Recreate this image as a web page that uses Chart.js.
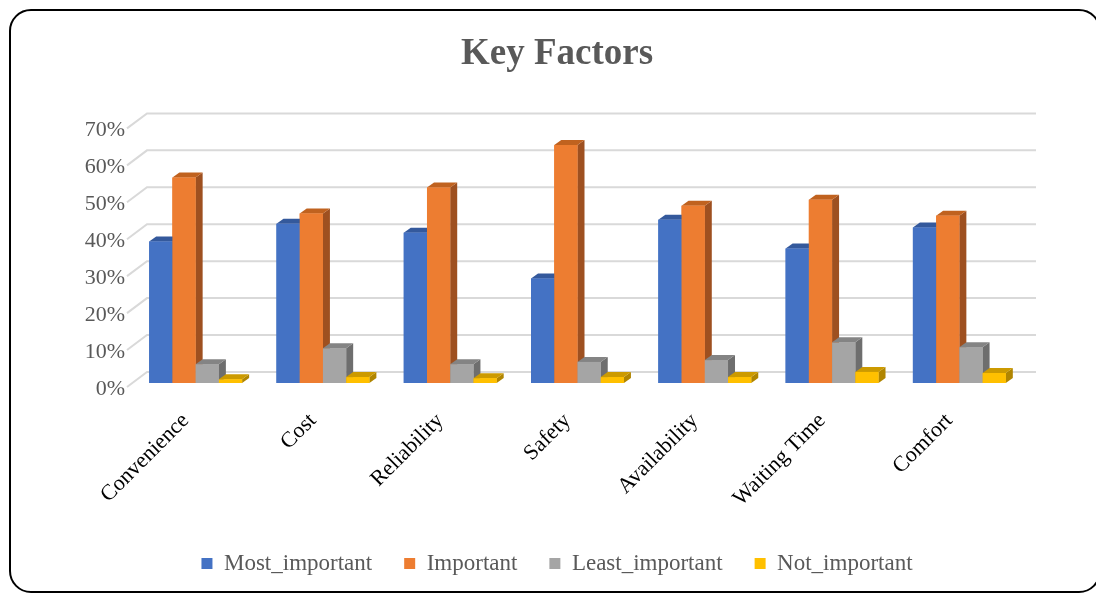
<!DOCTYPE html>
<html>
<head>
<meta charset="utf-8">
<script src="https://cdn.jsdelivr.net/npm/chart.js@4.4.1/dist/chart.umd.min.js"></script>
<style>
    html, body { margin: 0; padding: 0; background: #fff; }
    #wrap { position: relative; width: 1096px; height: 594px; overflow: hidden; background: #fff; }
    #frame {
        position: absolute; left: 9px; top: 9px; width: 1092px; height: 584px;
        border: 2.5px solid #000; border-radius: 22px; box-sizing: border-box;
    }
    #myChart { position: absolute; left: 0; top: 0; }
</style>
</head>
<body>
<div id="wrap">
    <div id="frame"></div>
    <canvas id="myChart" width="1096" height="594"></canvas>
</div>
<script>
// du lieu
var categories = ["Convenience", "Cost", "Reliability", "Safety", "Availability", "Waiting Time", "Comfort"];
var mostImportant = [38.3, 43.1, 40.7, 28.3, 44.2, 36.4, 42.1];
var important = [55.6, 45.9, 52.9, 64.4, 48.0, 49.6, 45.3];
var leastImportant = [5.1, 9.4, 5.1, 5.7, 6.2, 11.0, 9.7];
var notImportant = [1.0, 1.6, 1.3, 1.6, 1.6, 3.0, 2.7];
var yTicks = [0, 10, 20, 30, 40, 50, 60, 70];

var frontColors = ["#4472C4", "#ED7D31", "#A5A5A5", "#FFC000"];
var topColors = ["#34599c", "#c0621f", "#848484", "#cc9a00"];
var sideColors = ["#2f5190", "#9e5020", "#6e6e6e", "#b08500"];

// ve luoi 3D (tuong sau + duong cheo)
var gridPlugin = {
    id: "grid3d",
    beforeDatasetsDraw: function (chart) {
        var ctx = chart.ctx;
        var y = chart.scales.y;
        var area = chart.chartArea;
        ctx.save();
        ctx.strokeStyle = "#d9d9d9";
        ctx.lineWidth = 2;
        yTicks.forEach(function (v) {
            var py = y.getPixelForValue(v);
            ctx.beginPath();
            ctx.moveTo(area.left - 5, py + 4);
            ctx.lineTo(area.left + 15, py - 11);
            ctx.lineTo(area.right + 13, py - 11);
            ctx.stroke();
        });
        ctx.restore();
    }
};

// ve cot 3D: mat truoc, mat tren, mat ben
var barPlugin = {
    id: "bars3d",
    afterDatasetsDraw: function (chart) {
        var ctx = chart.ctx;
        var dx = 7, dy = 5;
        ctx.save();
        for (var j = 0; j < categories.length; j++) {
            for (var i = 0; i < chart.data.datasets.length; i++) {
                var bar = chart.getDatasetMeta(i).data[j];
                var l = bar.x - bar.width / 2;
                var r = bar.x + bar.width / 2;
                var t = bar.y, b = bar.base;
                // mat ben
                ctx.fillStyle = sideColors[i];
                ctx.beginPath();
                ctx.moveTo(r, t); ctx.lineTo(r + dx, t - dy);
                ctx.lineTo(r + dx, b - dy); ctx.lineTo(r, b);
                ctx.closePath(); ctx.fill();
                // mat tren
                ctx.fillStyle = topColors[i];
                ctx.beginPath();
                ctx.moveTo(l, t); ctx.lineTo(l + dx, t - dy);
                ctx.lineTo(r + dx, t - dy); ctx.lineTo(r, t);
                ctx.closePath(); ctx.fill();
                // mat truoc
                ctx.fillStyle = frontColors[i];
                ctx.fillRect(l, t, r - l, b - t);
            }
        }
        ctx.restore();
    }
};

function VeDoThi() {
    Chart.defaults.font.family = "'Liberation Serif', 'Times New Roman', serif";
    new Chart("myChart", {
        type: "bar",
        data: {
            labels: categories,
            datasets: [
                { label: "Most_important", data: mostImportant, backgroundColor: frontColors[0] },
                { label: "Important", data: important, backgroundColor: frontColors[1] },
                { label: "Least_important", data: leastImportant, backgroundColor: frontColors[2] },
                { label: "Not_important", data: notImportant, backgroundColor: frontColors[3] }
            ]
        },
        options: {
            responsive: false,
            animation: false,
            layout: { padding: { left: 18, right: 0, top: 0, bottom: 9 } },
            datasets: { bar: { categoryPercentage: 0.73, barPercentage: 1 } },
            plugins: {
                tooltip: { enabled: false },
                title: {
                    display: true,
                    text: "Key Factors",
                    color: "#595959",
                    font: { size: 37, weight: "bold" },
                    padding: { top: 32, bottom: 48 }
                },
                legend: {
                    position: "bottom",
                    labels: {
                        color: "#595959",
                        font: { size: 23 },
                        boxWidth: 11,
                        boxHeight: 11,
                        padding: 32
                    }
                }
            },
            scales: {
                x: {
                    grid: { display: false, drawTicks: false },
                    border: { display: false },
                    ticks: {
                        color: "#000",
                        font: { size: 22 },
                        minRotation: 45,
                        maxRotation: 45,
                        padding: 25,
                        labelOffset: -10
                    },
                    afterFit: function (scale) { scale.height = 137; }
                },
                y: {
                    min: 0,
                    max: 70,
                    grid: { display: false, drawTicks: false },
                    border: { display: false },
                    ticks: {
                        stepSize: 10,
                        color: "#595959",
                        font: { size: 22 },
                        padding: 7,
                        labelOffset: 6,
                        callback: function (v) { return v + "%"; }
                    },
                    afterFit: function (scale) { scale.width = 114; }
                },
                y2: {
                    position: "right",
                    display: true,
                    grid: { display: false, drawTicks: false },
                    border: { display: false },
                    ticks: { display: false },
                    afterFit: function (scale) { scale.width = 73; }
                }
            }
        },
        plugins: [gridPlugin, barPlugin]
    });
}

VeDoThi();
</script>
</body>
</html>
